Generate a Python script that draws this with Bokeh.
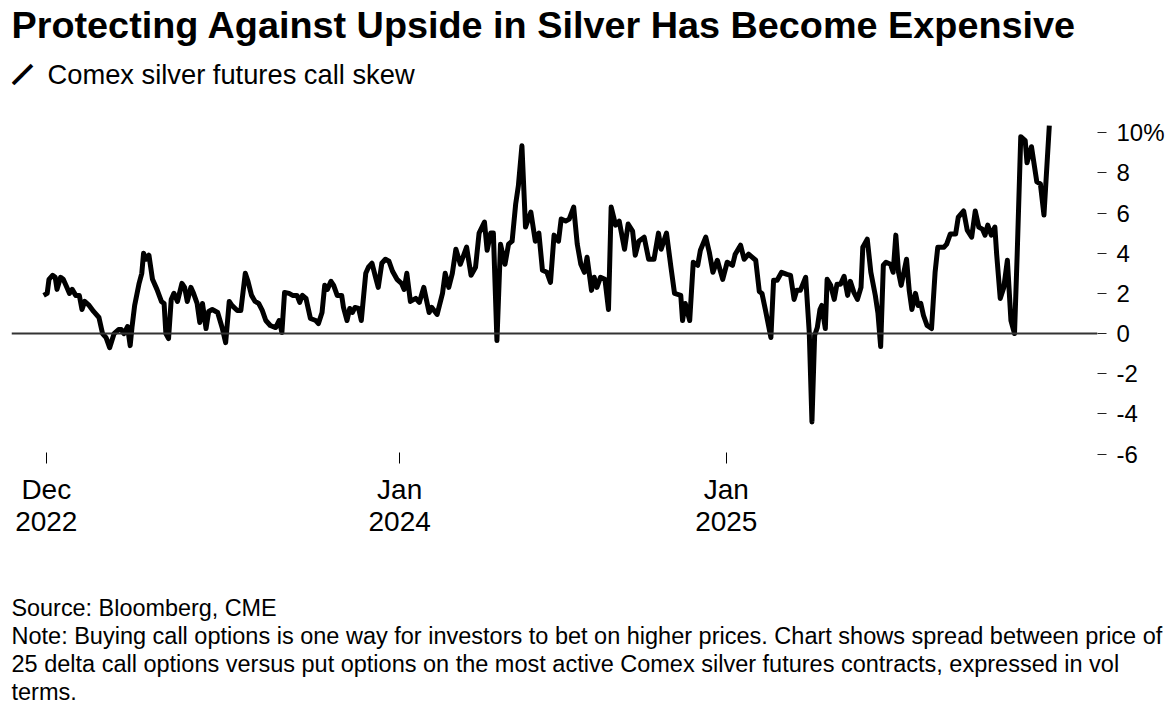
import pandas as pd
from bokeh.plotting import figure
from bokeh.models import Range1d, FixedTicker, Span, Title, Label, ColumnDataSource
from bokeh.embed import file_html
from bokeh.resources import INLINE

FONT = "Liberation Sans"

title_text = "Protecting Against Upside in Silver Has Become Expensive"
subtitle_text = "Comex silver futures call skew"
source_text = "Source: Bloomberg, CME"
note_lines = [
    "Note: Buying call options is one way for investors to bet on higher prices. Chart shows spread between price of",
    "25 delta call options versus put options on the most active Comex silver futures contracts, expressed in vol",
    "terms.",
]

dates = [
    "2022-11-28", "2022-12-02", "2022-12-04", "2022-12-08", "2022-12-11", "2022-12-13", "2022-12-17", "2022-12-20", "2022-12-23", "2022-12-27", "2022-12-30",
    "2023-01-03", "2023-01-07", "2023-01-10", "2023-01-13", "2023-01-18", "2023-01-23", "2023-01-29",
    "2023-02-02", "2023-02-06", "2023-02-10", "2023-02-15", "2023-02-20", "2023-02-23", "2023-02-26",
    "2023-03-02", "2023-03-05", "2023-03-07", "2023-03-10", "2023-03-15", "2023-03-18", "2023-03-20", "2023-03-23", "2023-03-26", "2023-03-30",
    "2023-04-04", "2023-04-09", "2023-04-12", "2023-04-14", "2023-04-17", "2023-04-20", "2023-04-23", "2023-04-27",
    "2023-05-02", "2023-05-05", "2023-05-08", "2023-05-12", "2023-05-15", "2023-05-19", "2023-05-22", "2023-05-25", "2023-05-29",
    "2023-06-01", "2023-06-05", "2023-06-11", "2023-06-12", "2023-06-16", "2023-06-20", "2023-06-24", "2023-06-27",
    "2023-07-03", "2023-07-07", "2023-07-12", "2023-07-15", "2023-07-19", "2023-07-23", "2023-07-27", "2023-07-31",
    "2023-08-04", "2023-08-09", "2023-08-15", "2023-08-19", "2023-08-22", "2023-08-25", "2023-08-30",
    "2023-09-03", "2023-09-08", "2023-09-11", "2023-09-14", "2023-09-18", "2023-09-23", "2023-09-29",
    "2023-10-02", "2023-10-06", "2023-10-09", "2023-10-12", "2023-10-16", "2023-10-19", "2023-10-23", "2023-10-28", "2023-10-30",
    "2023-11-03", "2023-11-06", "2023-11-09", "2023-11-12", "2023-11-16", "2023-11-19", "2023-11-24", "2023-11-27",
    "2023-12-01", "2023-12-05", "2023-12-08", "2023-12-12", "2023-12-16", "2023-12-20", "2023-12-24", "2023-12-29",
    "2024-01-03", "2024-01-06", "2024-01-09", "2024-01-13", "2024-01-19", "2024-01-23", "2024-01-28",
    "2024-02-03", "2024-02-06", "2024-02-12", "2024-02-18", "2024-02-21", "2024-02-25", "2024-02-29",
    "2024-03-04", "2024-03-09", "2024-03-16", "2024-03-21", "2024-03-26", "2024-03-30",
    "2024-04-05", "2024-04-08", "2024-04-12", "2024-04-15", "2024-04-19", "2024-04-23", "2024-04-28",
    "2024-05-02", "2024-05-06", "2024-05-10", "2024-05-13", "2024-05-17", "2024-05-21", "2024-05-27",
    "2024-06-01", "2024-06-05", "2024-06-09", "2024-06-14", "2024-06-18", "2024-06-22", "2024-06-27", "2024-06-30",
    "2024-07-05", "2024-07-09", "2024-07-14", "2024-07-18", "2024-07-22", "2024-07-26", "2024-07-29",
    "2024-08-03", "2024-08-06", "2024-08-09", "2024-08-13", "2024-08-18", "2024-08-22", "2024-08-25", "2024-08-30",
    "2024-09-03", "2024-09-09", "2024-09-13", "2024-09-18", "2024-09-21", "2024-09-25",
    "2024-10-01", "2024-10-06", "2024-10-12", "2024-10-17", "2024-10-20", "2024-10-26", "2024-10-31",
    "2024-11-04", "2024-11-11", "2024-11-13", "2024-11-16", "2024-11-21", "2024-11-25", "2024-11-30",
    "2024-12-03", "2024-12-09", "2024-12-13", "2024-12-17", "2024-12-22", "2024-12-28",
    "2025-01-02", "2025-01-08", "2025-01-11", "2025-01-17", "2025-01-21", "2025-01-26",
    "2025-02-03", "2025-02-07", "2025-02-10", "2025-02-14", "2025-02-20", "2025-02-23", "2025-02-27",
    "2025-03-04", "2025-03-10", "2025-03-14", "2025-03-18", "2025-03-21", "2025-03-25", "2025-03-31",
    "2025-04-04", "2025-04-07", "2025-04-10", "2025-04-13", "2025-04-16", "2025-04-18", "2025-04-22", "2025-04-24", "2025-04-28",
    "2025-05-02", "2025-05-05", "2025-05-09", "2025-05-13", "2025-05-17", "2025-05-20", "2025-05-24", "2025-05-28",
    "2025-06-01", "2025-06-03", "2025-06-08", "2025-06-12", "2025-06-17", "2025-06-20", "2025-06-23", "2025-06-26", "2025-06-29",
    "2025-07-04", "2025-07-07", "2025-07-10", "2025-07-13", "2025-07-16", "2025-07-19", "2025-07-22", "2025-07-25", "2025-07-28",
    "2025-08-01", "2025-08-04", "2025-08-07", "2025-08-10", "2025-08-14", "2025-08-19", "2025-08-23", "2025-08-26",
    "2025-09-02", "2025-09-05", "2025-09-09", "2025-09-15", "2025-09-18", "2025-09-24", "2025-09-28",
    "2025-10-03", "2025-10-07", "2025-10-11", "2025-10-15", "2025-10-18", "2025-10-21", "2025-10-25", "2025-10-29", "2025-10-31",
    "2025-11-04", "2025-11-08", "2025-11-12", "2025-11-16", "2025-11-20", "2025-11-23", "2025-11-27",
    "2025-12-02", "2025-12-04", "2025-12-09", "2025-12-15", "2025-12-19", "2025-12-23", "2025-12-29",
]

call_skew = [
    1.9, 2.0, 2.7, 2.9, 2.8, 2.2, 2.8, 2.7, 2.4, 2.0, 2.2,
    1.9, 1.9, 1.2, 1.6, 1.4, 1.1, 0.8,
    0.0, -0.2, -0.7, 0.0, 0.2, 0.2, 0.0,
    0.35, -0.6, 0.3, 1.4, 2.5, 3.0, 4.0, 3.7, 3.9, 2.7,
    2.2, 1.6, 1.5, 0.0, -0.25, 1.7, 2.0, 1.6,
    2.5, 2.3, 1.6, 2.3, 2.0, 1.5, 0.55, 1.5, 0.25,
    1.1, 1.2, 1.05, 0.9, 0.3, -0.45, 1.6, 1.4,
    1.15, 1.15, 3.0, 2.6, 1.9, 1.6, 1.5, 1.15,
    0.65, 0.4, 0.3, 0.65, 0.05, 2.05, 2.0,
    1.9, 1.9, 1.55, 1.9, 1.75, 0.75, 0.65,
    0.5, 1.05, 2.4, 2.2, 2.6, 2.4, 1.9, 1.9, 1.3,
    0.65, 1.25, 1.05, 1.3, 1.25, 0.65, 3.0, 3.3,
    3.5, 2.8, 2.3, 3.5, 3.7, 3.6, 3.1, 2.7,
    2.5, 2.2, 3.0, 1.6, 1.75, 1.55, 2.3,
    1.05, 1.3, 0.95, 2.0, 3.0, 2.3, 3.0,
    4.2, 3.45, 4.3, 2.9, 3.3, 5.0,
    5.55, 4.15, 5.0, 5.0, -0.35, 4.45, 3.45,
    4.45, 4.6, 6.45, 7.35, 9.35, 5.3, 6.05,
    4.6, 5.0, 3.15, 3.05, 2.55, 4.9, 4.6, 5.7,
    5.6, 5.7, 6.3, 4.45, 3.45, 3.05, 3.8,
    2.15, 2.8, 2.3, 2.8, 2.7, 1.2, 6.3, 5.4,
    5.6, 4.2, 5.45, 5.1, 3.9, 4.6,
    4.8, 3.7, 3.7, 5.0, 4.2, 5.0, 3.3,
    2.0, 1.9, 0.65, 1.5, 0.65, 3.55, 3.4,
    4.15, 4.8, 4.05, 3.05, 3.65, 2.7,
    3.55, 3.4, 3.95, 4.4, 3.7, 3.95,
    3.65, 2.1, 2.0, 1.15, -0.2, 2.65, 2.65,
    3.05, 2.95, 2.9, 1.7, 2.15, 2.15, 2.8,
    0.05, -4.4, -0.1, 0.3, 1.2, 1.4, 0.25, 2.7, 2.4,
    1.7, 2.45, 2.45, 2.85, 1.9, 2.6, 2.05, 1.7,
    2.3, 4.3, 4.7, 3.05, 1.9, 1.0, -0.65, 3.4, 3.55,
    3.45, 3.05, 4.9, 3.05, 2.4, 3.05, 3.7, 2.15, 1.2,
    2.0, 1.4, 1.5, 0.9, 0.4, 0.25, 3.05, 4.3,
    4.3, 4.45, 4.95, 4.95, 5.8, 6.1, 5.15,
    4.8, 6.1, 5.3, 5.2, 4.9, 5.4, 4.9, 5.3, 3.95,
    1.75, 2.3, 3.65, 0.65, 0.0, 3.95, 9.8,
    9.6, 8.5, 9.3, 7.55, 7.45, 5.9, 10.35,
]

y_ticks = [-6, -4, -2, 0, 2, 4, 6, 8, 10]
y_tick_labels = ["-6", "-4", "-2", "0", "2", "4", "6", "8", "10%"]
x_tick_dates = ["2022-12-01", "2024-01-01", "2025-01-01"]
x_tick_labels = ["Dec\n2022", "Jan\n2024", "Jan\n2025"]

assert len(dates) == len(call_skew)

src = ColumnDataSource(dict(date=pd.to_datetime(dates), skew=call_skew))

x_start = pd.Timestamp("2022-10-23")
x_end = pd.Timestamp("2026-02-21")
y_bottom, y_top = -6.12, 16.58

p = figure(
    title=None,
    frame_width=1086, frame_height=456,
    x_axis_type="datetime", y_axis_location="right",
    x_range=Range1d(x_start, x_end),
    y_range=Range1d(y_bottom, y_top),
    output_backend="svg", toolbar_location=None,
    min_border_left=11, min_border_right=0, min_border_top=0, min_border_bottom=0,
    background_fill_color="white", border_fill_color="white",
)
p.outline_line_color = None
p.xgrid.visible = False
p.ygrid.visible = False

p.add_layout(Span(location=0, dimension="width", line_color="#333333", line_width=2))
p.line("date", "skew", source=src, line_color="black", line_width=5, line_join="round")

x_ms = [int(pd.Timestamp(d).value // 10**6) for d in x_tick_dates]
xa = p.xaxis[0]
xa.ticker = FixedTicker(ticks=x_ms)
xa.major_label_overrides = dict(zip(x_ms, x_tick_labels))
xa.axis_line_color = None
xa.minor_tick_line_color = None
xa.major_tick_line_color = "black"
xa.major_tick_in = 4
xa.major_tick_out = 7
xa.major_label_standoff = 10
xa.major_label_text_font = FONT
xa.major_label_text_font_size = "28px"
xa.major_label_text_color = "black"
xa.major_label_text_line_height = 1.055

ya = p.yaxis[0]
ya.ticker = FixedTicker(ticks=y_ticks)
ya.major_label_overrides = dict(zip(y_ticks, y_tick_labels))
ya.axis_line_color = None
ya.minor_tick_line_color = None
ya.major_tick_line_color = "#222222"
ya.major_tick_in = 0
ya.major_tick_out = 9
ya.major_label_standoff = 10
ya.major_label_text_font = FONT
ya.major_label_text_font_size = "24px"
ya.major_label_text_color = "black"

# headline and subtitle, placed in the empty band at the top of the frame
p.add_layout(Label(x=x_start, y=15.38, text=title_text, text_font=FONT,
                   text_font_size="37.8px", text_font_style="bold", text_color="black",
                   text_align="left", text_baseline="middle"))
p.add_layout(Label(x=x_start, y=12.89, x_offset=36, text=subtitle_text, text_font=FONT,
                   text_font_size="27.3px", text_color="black",
                   text_align="left", text_baseline="middle"))
# legend mark (a short slanted stroke) in front of the subtitle
p.add_layout(Label(x=x_start, y=12.89, x_offset=11, text="━━",
                   angle=45, angle_units="deg", text_align="center",
                   text_baseline="middle", text_font="DejaVu Sans Mono",
                   text_font_size="22px", text_color="black"))


def make_title(text, size, style="normal"):
    return Title(text=text, text_font=FONT, text_font_size=f"{size}px",
                 text_font_style=style, text_color="black", align="left",
                 vertical_align="middle", standoff=0, offset=0)


# below panels stack outward from the axis
p.add_layout(make_title(" ", 45), "below")
p.add_layout(make_title(source_text, 23.4), "below")
for line in note_lines:
    p.add_layout(make_title(line, 23.5), "below")

open("out.html", "w").write(file_html(p, INLINE))
